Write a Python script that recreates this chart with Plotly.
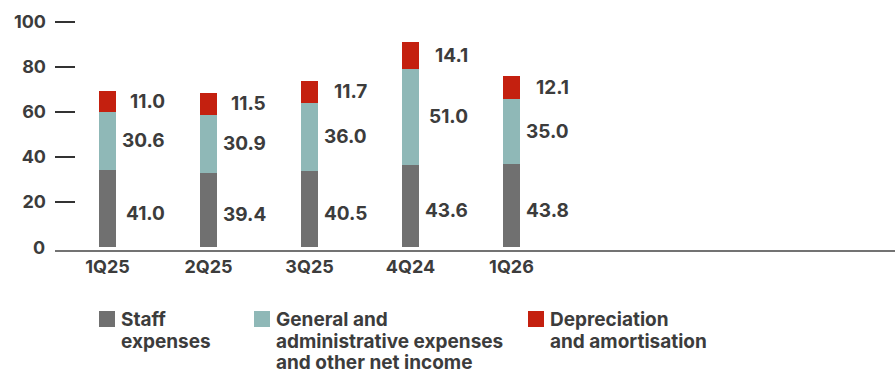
import plotly.graph_objects as go

# Quarterly operating expenses by component
quarters = ["1Q25", "2Q25", "3Q25", "4Q24", "1Q26"]
staff = [41.0, 39.4, 40.5, 43.6, 43.8]
general_admin = [30.6, 30.9, 36.0, 51.0, 35.0]
depreciation = [11.0, 11.5, 11.7, 14.1, 12.1]

series_names = [
    "Staff expenses",
    "General and administrative expenses and other net income",
    "Depreciation and amortisation",
]
legend_lines = [
    ["Staff", "expenses"],
    ["General and", "administrative expenses", "and other net income"],
    ["Depreciation", "and amortisation"],
]
series_colors = ["#707070", "#8fb8b7", "#c4200f"]

y_ticks = [0, 20, 40, 60, 80, 100]

FONT = "Inter"
TEXT = "#3c3c3c"

# figure geometry (pixels)
W, H = 895, 374
M_L, M_R, M_T, M_B = 55, 0, 10, 124
PLOT_W = W - M_L - M_R
PLOT_H = H - M_T - M_B

PX_PER_UNIT = 1.884    # vertical pixels per unit of expense
BASE_GAP_PX = 3        # space between bar base and the x-axis line
Y_MIN = -BASE_GAP_PX / PX_PER_UNIT
Y_MAX = Y_MIN + PLOT_H / PX_PER_UNIT
TICK_SCALE = 1.194     # spacing of the printed axis ticks relative to bar units

fig = go.Figure()
series = [staff, general_admin, depreciation]
for name, vals, color in zip(series_names, series, series_colors):
    fig.add_trace(go.Bar(
        x=quarters, y=vals, name=name,
        marker=dict(color=color, line=dict(width=0)),
        width=0.168, showlegend=False, hoverinfo="skip",
    ))

# value labels to the right of each segment
annotations = []
for s_idx, vals in enumerate(series):
    for i, q in enumerate(quarters):
        base = sum(series[k][i] for k in range(s_idx))
        mid = base + vals[i] / 2
        annotations.append(dict(
            x=q, y=mid, xref="x", yref="y",
            text=f"{vals[i]:.1f}", showarrow=False,
            xanchor="right", yanchor="middle", xshift=59,
            yshift=-5 if s_idx == 0 else 0,
            font=dict(family=FONT, size=19, color=TEXT, weight="bold"),
        ))

# the zero label sits on the baseline without a tick dash
annotations.append(dict(
    x=0, y=0, xref="paper", yref="y", text=str(y_ticks[0]),
    showarrow=False, xanchor="right", yanchor="middle", xshift=-8,
    font=dict(family=FONT, size=18, color=TEXT, weight="bold"),
))

# legend drawn below the chart
def px_to_paper_x(px):
    return (px - M_L) / PLOT_W

def px_to_paper_y(py):
    return (H - M_B - py) / PLOT_H

legend_x = [99, 254, 528]
LINE_TOP, LINE_STEP = 319.5, 21.5
shapes = []
for lx, lines, color in zip(legend_x, legend_lines, series_colors):
    shapes.append(dict(
        type="rect", xref="paper", yref="paper",
        x0=px_to_paper_x(lx), x1=px_to_paper_x(lx + 16),
        y0=px_to_paper_y(327), y1=px_to_paper_y(311),
        fillcolor=color, line=dict(width=0),
    ))
    for j, line in enumerate(lines):
        annotations.append(dict(
            x=px_to_paper_x(lx + 21), y=px_to_paper_y(LINE_TOP + j * LINE_STEP),
            xref="paper", yref="paper", text=line, showarrow=False,
            xanchor="left", yanchor="middle", align="left", borderpad=0,
            font=dict(family=FONT, size=19, color=TEXT, weight="bold"),
        ))

fig.update_layout(
    barmode="stack",
    width=W, height=H,
    margin=dict(l=M_L, r=M_R, t=M_T, b=M_B),
    paper_bgcolor="white", plot_bgcolor="white",
    annotations=annotations, shapes=shapes,
    xaxis=dict(
        type="category", range=[-0.52, 7.797],
        showline=True, linecolor="#737373", linewidth=1.5,
        showgrid=False, ticks="",
        tickfont=dict(family=FONT, size=18, color=TEXT, weight="bold"),
        fixedrange=True,
    ),
    yaxis=dict(
        range=[Y_MIN, Y_MAX],
        tickvals=[t * TICK_SCALE for t in y_ticks[1:]],
        ticktext=[str(t) for t in y_ticks[1:]],
        ticks="inside", ticklen=20, tickwidth=1.5, tickcolor="#333333",
        showline=False, showgrid=False, zeroline=False,
        ticklabelstandoff=8,
        tickfont=dict(family=FONT, size=18, color=TEXT, weight="bold"),
        fixedrange=True,
    ),
)

fig.write_html("out.html", config={"displayModeBar": False})
